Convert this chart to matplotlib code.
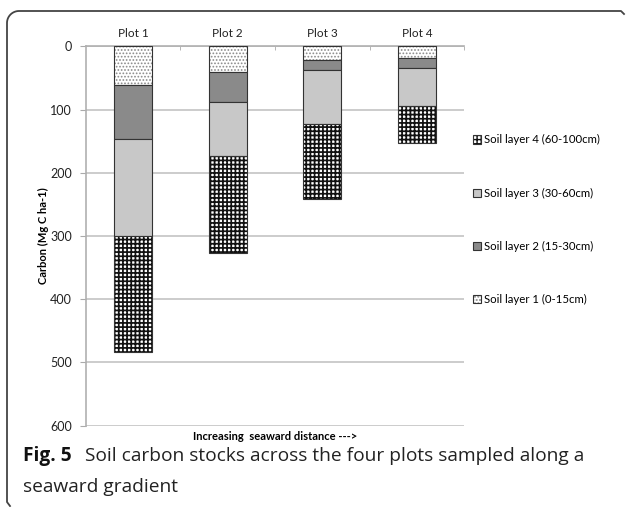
import matplotlib
matplotlib.use('Agg')
import matplotlib.pyplot as plt
import numpy as np
from matplotlib.lines import Line2D
from matplotlib.patches import Patch

plots = ['Plot 1', 'Plot 2', 'Plot 3', 'Plot 4']
layer1 = [61, 41, 22, 18]
layer2 = [86, 47, 16, 16]
layer3 = [153, 86, 85, 61]
layer4 = [183, 153, 119, 58]
layer_names = ['Soil layer 1 (0-15cm)', 'Soil layer 2 (15-30cm)',
               'Soil layer 3 (30-60cm)', 'Soil layer 4 (60-100cm)']
yticks = [0, 100, 200, 300, 400, 500, 600]

plt.rcParams['font.family'] = ['Lato', 'DejaVu Sans']

fig = plt.figure(figsize=(6.27, 5.07), dpi=100, facecolor='w')
ax = fig.add_axes([0.1367, 0.1604, 0.6038, 0.748])

x = np.arange(len(plots))
styles = [
    dict(facecolor='white', hatch='.....', hatchcolor='#8a8a8a', hlw=0.8),
    dict(facecolor='#8a8a8a', hatch=None),
    dict(facecolor='#c8c8c8', hatch=None),
    dict(facecolor='white', hatch='++++', hatchcolor='#111111', hlw=1.25),
]
layers = [layer1, layer2, layer3, layer4]
bottom = np.zeros(len(plots))
handles = []
for vals, st, name in zip(layers, styles, layer_names):
    kw = dict(facecolor=st['facecolor'], edgecolor='#333333', linewidth=0.8)
    if st['hatch']:
        kw['hatch'] = st['hatch']
    with plt.rc_context({'hatch.linewidth': st.get('hlw', 1.0)}):
        bars = ax.bar(x, vals, 0.4, bottom=bottom, zorder=3, **kw)
        h = Patch(label=name, **kw)
    if st['hatch']:
        hc = matplotlib.colors.to_rgba(st['hatchcolor'])
        for b in bars:
            b._hatch_color = hc
        h._hatch_color = hc
    bottom += np.array(vals)
    handles.append(h)

ax.set_xlim(-0.5, 3.5)
ax.set_ylim(600, 0)
ax.set_yticks(yticks)
ax.set_yticklabels([str(t) for t in yticks], fontsize=9, color='#222222')
ax.xaxis.tick_top()
ax.set_xticks(x)
ax.set_xticklabels(plots, fontsize=8.5, color='#222222')
ax.tick_params(axis='x', length=0, pad=5)
ax.set_xticks([0.5, 1.5, 2.5, 3.5], minor=True)
ax.tick_params(axis='x', which='minor', direction='in', length=3, color='#aaaaaa', top=True)
ax.tick_params(axis='y', length=4, color='#aaaaaa', pad=6)
ax.grid(axis='y', color='#c4c4c4', lw=1.2, zorder=0)
ax.set_axisbelow(True)
for s in ('right', 'bottom'):
    ax.spines[s].set_visible(False)
for s in ('top', 'left'):
    ax.spines[s].set_color('#b0b0b0')
    ax.spines[s].set_linewidth(1.2)

ax.set_ylabel('Carbon (Mg C ha-1)', fontsize=8, fontweight='bold', labelpad=1)
fig.text((85.7 + 464.3) / 2 / 627, 1 - 437 / 507, 'Increasing  seaward distance --->',
         fontsize=8, fontweight='bold', ha='center', va='center')

leg = ax.legend(handles=handles[::-1], loc='upper left', bbox_to_anchor=(1.01, 0.78),
                frameon=False, fontsize=8.2, labelspacing=3.7, handlelength=0.75,
                handleheight=0.75, handletextpad=0.25, borderaxespad=0)

# caption
cap = dict(fontsize=13.8, family=['Open Sans', 'DejaVu Sans'], va='center')
fig.text(23 / 627, 1 - 456 / 507, 'Fig. 5', fontweight='bold', color='#111111', **cap)
fig.text(85 / 627, 1 - 456 / 507, 'Soil carbon stocks across the four plots sampled along a',
         color='#222222', **cap)
fig.text(23 / 627, 1 - 487 / 507, 'seaward gradient', color='#222222', **cap)

# rounded frame on top and left
W, H = 627, 507
r = 12
t = np.linspace(np.pi / 2, np.pi, 20)
cx = 7 + r + r * np.cos(t)
cy = 11 + r - r * np.sin(t)
px = np.concatenate([[624, 621], cx, [7, 7, 10]])
py = np.concatenate([[14, 11], cy, [11 + r, 502, 506]])
fig.add_artist(Line2D(px / W, 1 - py / H, color='#444444', lw=1.3,
                      transform=fig.transFigure))

fig.savefig('out.png', dpi=100, facecolor='w')
